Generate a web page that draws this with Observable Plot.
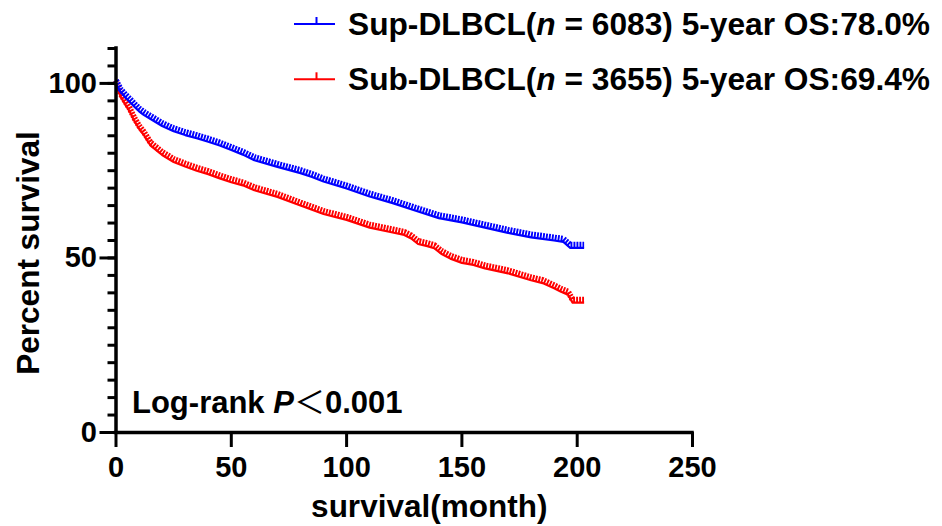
<!DOCTYPE html>
<html><head><meta charset="utf-8">
<script src="https://cdn.jsdelivr.net/npm/d3@7"></script>
<script src="https://cdn.jsdelivr.net/npm/@observablehq/plot@0.6"></script>
<style>
html,body{margin:0;padding:0;background:#fff;}
#wrap{position:relative;width:942px;height:526px;overflow:hidden;font-family:'Liberation Sans',Arial,sans-serif;}
#wrap svg.overlay{position:absolute;left:0;top:0;pointer-events:none;}
</style></head><body><div id="wrap"></div>
<script>
// ---- data ----
const supMonths   = [0, 2, 4, 6, 8, 10, 12, 15, 20, 25, 30, 35, 40, 45, 50, 55, 60, 70, 80, 85, 90, 100, 110, 120, 130, 140, 150, 160, 170, 180, 190, 194, 197, 203];
const supSurvival = [100, 97.5, 96, 94.7, 93.3, 92, 91, 89.8, 87.8, 86.3, 85.2, 84.3, 83.3, 82.2, 80.9, 79.6, 78.0, 76.1, 74.3, 73.2, 71.9, 69.9, 67.6, 65.7, 63.5, 61.4, 60.2, 58.7, 57.2, 55.9, 55.0, 54.6, 52.9, 52.9];
const subMonths   = [0, 2, 4, 6, 8, 10, 12, 15, 20, 25, 30, 35, 40, 45, 50, 55, 60, 70, 80, 90, 100, 110, 120, 125, 128, 131, 135, 138, 141, 145, 150, 155, 160, 170, 180, 185, 190, 193, 196, 198, 203];
const subSurvival = [100, 96.2, 94, 91.9, 89.2, 87, 85.3, 82.2, 79.5, 77.5, 76.2, 75, 74, 72.8, 71.7, 70.8, 69.4, 67.5, 65.0, 62.6, 60.9, 58.7, 57.3, 56.6, 55.6, 54.0, 53.4, 52.8, 51.2, 49.8, 48.6, 48.0, 47.0, 45.6, 43.6, 42.8, 41.3, 40.3, 39.5, 37.2, 37.2];
const seriesNames = ["Sup-DLBCL", "Sub-DLBCL"];
const seriesN = [6083, 3655];
const fiveYearOS = ["78.0%", "69.4%"];
const seriesColors = ["#0000ff", "#ff0000"];
const xTicks = [0, 50, 100, 150, 200, 250];
const yMajorTicks = [0, 50, 100];
const yMinorTicks = [0, 5, 10, 15, 20, 25, 30, 35, 40, 45, 50, 55, 60, 65, 70, 75, 80, 85, 90, 95, 100, 105, 110];
const xLabel = "survival(month)";
const yLabel = "Percent survival";
const pValueText = "0.001";

const sup = supMonths.map((m, i) => ({month: m, surv: supSurvival[i]}));
const sub = subMonths.map((m, i) => ({month: m, surv: subSurvival[i]}));

const font = "'Liberation Sans', Arial, sans-serif";

function curve(data, color) {
  return [
    Plot.line(data, {x: "month", y: "surv", stroke: color, strokeWidth: 6, strokeDasharray: "1.9,1.1", dy: -3, strokeLinecap: "butt", strokeLinejoin: "miter"}),
    Plot.line(data, {x: "month", y: "surv", stroke: color, strokeWidth: 2.2, strokeLinecap: "butt"})
  ];
}

const chart = Plot.plot({
  width: 942, height: 526,
  marginLeft: 115.5, marginRight: 250, marginTop: 48, marginBottom: 94,
  style: {fontFamily: font, fontWeight: "bold", color: "#000", background: "#fff", overflow: "visible"},
  x: {domain: [0, 250]},
  y: {domain: [0, 110]},
  marks: [
    ...curve(sub, seriesColors[1]),
    ...curve(sup, seriesColors[0]),
    Plot.axisY({ticks: yMinorTicks, tickSize: 8, strokeWidth: 3, text: null, label: null}),
    Plot.axisY({ticks: yMajorTicks, tickSize: 16, tickPadding: 3, strokeWidth: 3, fontSize: 29, fontWeight: "bold", label: null}),
    Plot.axisX({ticks: xTicks, tickSize: 15, tickPadding: 9, strokeWidth: 3, fontSize: 29, fontWeight: "bold", label: null}),
    Plot.ruleX([0], {strokeWidth: 3.5, strokeLinecap: "square"}),
    Plot.ruleY([0], {strokeWidth: 3.5, strokeLinecap: "square"}),
    Plot.text([xLabel], {text: d => d, frameAnchor: "bottom", dx: 25, dy: 84, lineAnchor: "bottom", fontSize: 31.5, fontWeight: "bold"}),
    Plot.text([yLabel], {text: d => d, frameAnchor: "left", rotate: -90, dx: -77.5, dy: 12.5, lineAnchor: "bottom", textAnchor: "middle", fontSize: 31.5, fontWeight: "bold"})
  ]
});

const wrap = document.getElementById("wrap");
wrap.appendChild(chart);

// ---- legend & annotation overlay ----
const ov = d3.select(wrap).append("svg").attr("class", "overlay")
  .attr("width", 942).attr("height", 526)
  .style("font-family", font).style("font-weight", "bold");

const rows = [{sym: 24, base: 35}, {sym: 79.3, base: 90}];
rows.forEach((r, i) => {
  const g = ov.append("g");
  g.append("line").attr("x1", 294).attr("x2", 335).attr("y1", r.sym).attr("y2", r.sym)
    .attr("stroke", seriesColors[i]).attr("stroke-width", 2);
  g.append("line").attr("x1", 316.5).attr("x2", 316.5).attr("y1", r.sym - 7).attr("y2", r.sym)
    .attr("stroke", seriesColors[i]).attr("stroke-width", 2);
  const t = g.append("text").attr("x", 348).attr("y", r.base).attr("font-size", 31.7).attr("fill", "#000");
  t.append("tspan").text(seriesNames[i] + "(");
  t.append("tspan").attr("font-style", "italic").text("n");
  t.append("tspan").text(" = " + seriesN[i] + ") 5-year OS:" + fiveYearOS[i]);
});

const ann = ov.append("text").attr("x", 132).attr("y", 413).attr("font-size", 31).attr("fill", "#000");
ann.append("tspan").text("Log-rank ");
ann.append("tspan").attr("font-style", "italic").text("P");
ann.append("tspan").attr("font-family", "'Noto Sans CJK SC', sans-serif").attr("font-weight", "normal").text("＜");
ann.append("tspan").text(pValueText);
</script>
</body></html>
